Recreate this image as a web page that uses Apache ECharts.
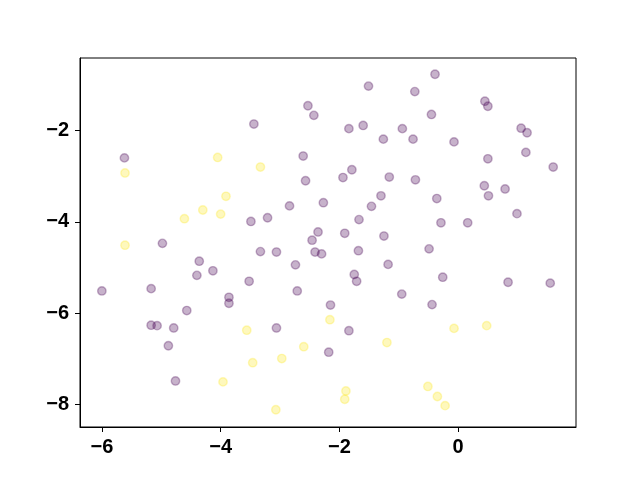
<!DOCTYPE html>
<html>
<head>
<meta charset="utf-8">
<script src="https://cdn.jsdelivr.net/npm/echarts@6/dist/echarts.min.js"></script>
<style>html,body{margin:0;padding:0;background:#fff}#c{width:640px;height:480px}</style>
</head>
<body>
<div id="c"></div>
<script>
const purpleX = [-6.00,-5.62,-5.17,-5.17,-5.07,-4.98,-4.88,-4.79,-4.76,-4.57,-4.40,-4.36,-4.13,-3.86,-3.86,-3.52,-3.49,-3.44,-3.33,-3.21,-3.06,-3.06,-2.84,-2.74,-2.71,-2.61,-2.57,-2.53,-2.43,-2.46,-2.36,-2.41,-2.30,-2.27,-2.15,-2.18,-1.94,-1.79,-1.91,-1.84,-1.84,-1.75,-1.71,-1.67,-1.68,-1.60,-1.51,-1.46,-1.30,-1.26,-1.25,-1.18,-1.16,-0.94,-0.95,-0.76,-0.73,-0.72,-0.49,-0.45,-0.44,-0.39,-0.36,-0.29,-0.26,-0.07,0.16,0.45,0.50,0.44,0.51,0.50,0.79,0.84,0.99,1.06,1.16,1.14,1.55,1.60];
const purpleY = [-5.51,-2.60,-5.46,-6.26,-6.27,-4.47,-6.71,-6.32,-7.48,-5.94,-5.17,-4.86,-5.07,-5.65,-5.78,-5.30,-3.99,-1.86,-4.65,-3.91,-4.66,-6.32,-3.65,-4.94,-5.51,-2.56,-3.10,-1.46,-1.67,-4.40,-4.22,-4.66,-4.70,-3.58,-5.82,-6.85,-3.03,-2.86,-4.25,-1.96,-6.38,-5.15,-5.30,-3.95,-4.63,-1.89,-1.03,-3.66,-3.43,-2.19,-4.31,-4.93,-3.02,-1.96,-5.58,-2.19,-1.15,-3.08,-4.59,-1.65,-5.81,-0.77,-3.49,-4.02,-5.21,-2.25,-4.02,-1.36,-1.47,-3.21,-3.43,-2.62,-3.28,-5.32,-3.82,-1.95,-2.05,-2.48,-5.34,-2.80];
const yellowX = [-5.61,-5.61,-4.61,-4.30,-4.05,-4.00,-3.91,-3.96,-3.56,-3.46,-3.33,-3.07,-2.97,-2.60,-2.16,-1.89,-1.91,-1.20,-0.51,-0.35,-0.22,-0.07,0.48];
const yellowY = [-2.93,-4.51,-3.93,-3.74,-2.59,-3.83,-3.44,-7.50,-6.37,-7.08,-2.80,-8.11,-6.99,-6.73,-6.14,-7.70,-7.88,-6.64,-7.60,-7.82,-8.02,-6.33,-6.27];
const xTicks = [-6,-4,-2,0];
const yTicks = [-8,-6,-4,-2];

const zip = (a, b) => a.map((v, i) => [v, b[i]]);
const chart = echarts.init(document.getElementById('c'), null, {renderer: 'canvas'});
const labelFont = {fontFamily: '"Liberation Sans", Arial, sans-serif', fontWeight: 'bold', fontSize: 20, color: '#000'};
const fmt = v => (v < 0 ? '\u2212' + Math.abs(v) : String(v));
chart.setOption({
  animation: false,
  backgroundColor: '#fff',
  grid: {left: 80, right: 64, top: 58, bottom: 53, show: true, borderColor: '#000', borderWidth: 1, backgroundColor: 'transparent'},
  xAxis: {
    type: 'value', min: -6.368, max: 1.984,
    splitLine: {show: false},
    axisLine: {show: true, onZero: false, lineStyle: {color: '#000', width: 1}},
    axisTick: {show: true, length: 5, lineStyle: {color: '#000'}, customValues: xTicks},
    axisLabel: Object.assign({margin: 10, customValues: xTicks, formatter: fmt}, labelFont)
  },
  yAxis: {
    type: 'value', min: -8.487, max: -0.415,
    splitLine: {show: false},
    axisLine: {show: true, onZero: false, lineStyle: {color: '#000', width: 1}},
    axisTick: {show: true, length: 5, lineStyle: {color: '#000'}, customValues: yTicks},
    axisLabel: Object.assign({margin: 11, customValues: yTicks, formatter: fmt, padding: [3, 0, 0, 0]}, labelFont)
  },
  series: [
    {type: 'scatter', data: zip(purpleX, purpleY), symbolSize: 8.4,
     itemStyle: {color: 'rgba(68,1,84,0.3)', borderColor: 'rgba(68,1,84,0.3)', borderWidth: 1.4, opacity: 1}},
    {type: 'scatter', data: zip(yellowX, yellowY), symbolSize: 8.4,
     itemStyle: {color: 'rgba(253,231,37,0.3)', borderColor: 'rgba(253,231,37,0.3)', borderWidth: 1.4, opacity: 1}}
  ]
});
</script>
</body>
</html>
